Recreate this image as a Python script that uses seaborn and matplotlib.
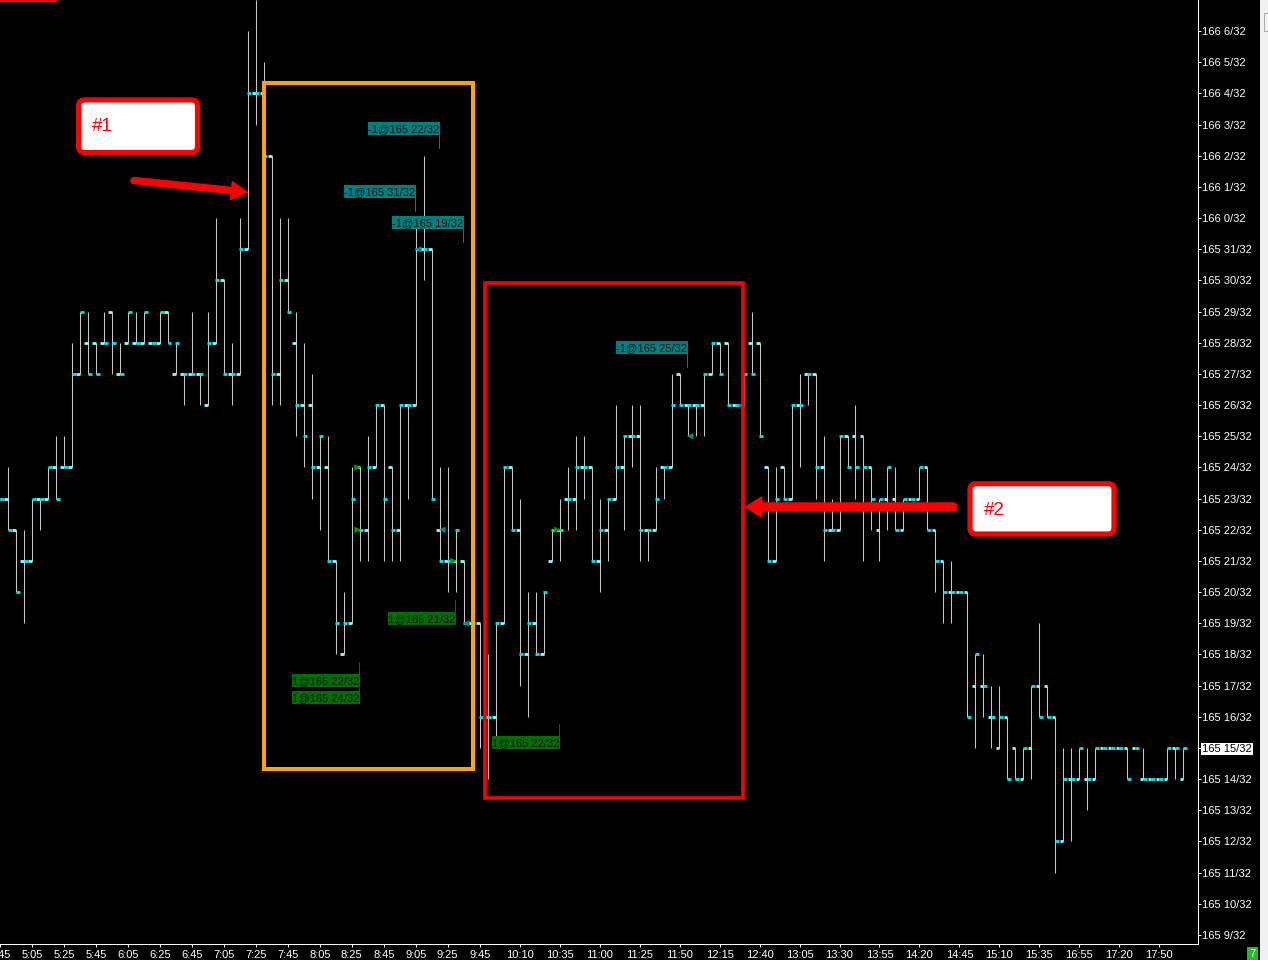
import matplotlib
matplotlib.use("Agg")
import matplotlib.pyplot as plt
import pandas as pd
import seaborn as sns
from matplotlib.patches import Rectangle, FancyBboxPatch, Polygon

# ---------------- data (prices in 1/32 above 165, one row per bar) ----------------
opens = [23, 23, 22, 21, 21, 23, 23, 24, 24, 24,
         27, 28, 28, 28, 29, 27, 28, 28, 28, 28,
         28, 29, 27, 27, 27, 27, 26, 28, 30, 27,
         27, 31, 36, 36, 34, 27, 30, 28, 26, 26,
         24, 24, 21, 18, 19, 24, 22, 24, 26, 24,
         22, 26, 26, 31, 31, 22, 21, 21, 21, 19,
         19, 16, 16, 19, 24, 22, 18, 19, 18, 21,
         22, 23, 23, 24, 24, 21, 22, 23, 24, 25,
         25, 22, 22, 24, 24, 27, 26, 26, 26, 27,
         28, 28, 26, 26, 28, 28, 24, 21, 24, 23,
         26, 27, 27, 24, 22, 22, 25, 25, 25, 24,
         22, 23, 23, 22, 23, 23, 24, 22, 21, 20,
         20, 20, 17, 17, 16, 15, 16, 15, 14, 15,
         17, 17, 16, 12, 14, 14, 14, 14, 15, 15,
         15, 15, 15, 14, 14, 14, 14, 15, 14]
highs = [23, 24, 22, 22, 23, 23, 24, 25, 25, 28,
         29, 29, 28, 29, 29, 28, 29, 29, 29, 28,
         29, 29, 28, 27, 29, 27, 29, 32, 30, 28,
         32, 38, 39, 37, 34, 32, 32, 29, 28, 27,
         25, 25, 21, 20, 24, 24, 25, 26, 26, 24,
         26, 26, 32, 34, 31, 24, 24, 22, 21, 19,
         19, 18, 19, 24, 24, 23, 20, 20, 20, 22,
         23, 24, 25, 25, 24, 23, 23, 26, 25, 26,
         26, 22, 24, 24, 27, 27, 26, 26, 27, 28,
         28, 28, 26, 27, 29, 28, 24, 24, 24, 26,
         27, 27, 27, 25, 23, 25, 25, 26, 25, 24,
         23, 24, 24, 23, 23, 24, 24, 22, 21, 21,
         20, 20, 18, 18, 17, 17, 16, 15, 15, 17,
         19, 17, 16, 15, 15, 15, 15, 15, 15, 15,
         15, 15, 15, 15, 14, 14, 15, 15, 15]
lows = [23, 22, 20, 19, 21, 22, 23, 23, 24, 24,
        27, 27, 27, 28, 27, 27, 28, 28, 28, 28,
        28, 28, 27, 26, 27, 26, 26, 28, 27, 26,
        27, 31, 35, 34, 26, 26, 29, 25, 24, 23,
        22, 21, 18, 18, 19, 21, 21, 24, 21, 21,
        21, 23, 26, 30, 23, 21, 20, 20, 19, 19,
        15, 14, 15, 19, 22, 17, 16, 18, 18, 21,
        21, 22, 22, 23, 21, 20, 21, 23, 22, 24,
        21, 21, 22, 23, 24, 26, 25, 25, 25, 27,
        27, 26, 26, 26, 27, 25, 21, 21, 23, 23,
        24, 26, 23, 21, 22, 22, 24, 23, 21, 22,
        21, 22, 22, 22, 23, 23, 22, 20, 19, 19,
        20, 16, 15, 16, 15, 15, 14, 14, 14, 14,
        16, 16, 11, 12, 12, 14, 13, 14, 15, 15,
        15, 14, 15, 14, 14, 14, 14, 14, 14]
closes = [23, 22, 20, 21, 23, 23, 24, 23, 24, 27,
          29, 27, 27, 28, 28, 27, 29, 28, 29, 28,
          29, 28, 28, 27, 27, 27, 28, 30, 27, 27,
          31, 36, 36, 34, 27, 30, 29, 26, 25, 24,
          25, 21, 19, 19, 23, 22, 24, 26, 23, 22,
          26, 26, 31, 31, 23, 21, 21, 22, 19, 19,
          16, 16, 19, 24, 22, 18, 19, 18, 20, 22,
          22, 23, 24, 24, 21, 22, 23, 24, 25, 25,
          22, 22, 23, 24, 26, 26, 26, 26, 27, 28,
          27, 26, 26, 27, 27, 25, 21, 23, 23, 26,
          26, 27, 24, 22, 22, 25, 24, 24, 24, 23,
          23, 24, 22, 23, 23, 24, 22, 21, 20, 20,
          20, 16, 18, 17, 16, 16, 14, 14, 15, 17,
          16, 16, 12, 14, 14, 15, 14, 15, 15, 15,
          15, 14, 15, 14, 14, 14, 15, 15, 15]

time_labels = ["4:45", "5:05", "5:25", "5:45", "6:05", "6:25", "6:45", "7:05", "7:25",
               "7:45", "8:05", "8:25", "8:45", "9:05", "9:25", "9:45", "10:10", "10:35",
               "11:00", "11:25", "11:50", "12:15", "12:40", "13:05", "13:30", "13:55",
               "14:20", "14:45", "15:10", "15:35", "16:55", "17:20", "17:50"]
time_label_bars = [0, 4, 8, 12, 16, 20, 24, 28, 32, 36, 40, 44, 48, 52, 56, 60,
                   65, 70, 75, 80, 85, 90, 95, 100, 105, 110, 115, 120, 125, 130,
                   135, 140, 145]

price_ticks = [9, 10, 11, 12, 13, 14, 15, 16, 17, 18, 19, 20, 21, 22, 23, 24, 25,
               26, 27, 28, 29, 30, 31, 32, 33, 34, 35, 36, 37, 38]
price_tick_labels = ["165 9/32", "165 10/32", "165 11/32", "165 12/32", "165 13/32",
                     "165 14/32", "165 15/32", "165 16/32", "165 17/32", "165 18/32",
                     "165 19/32", "165 20/32", "165 21/32", "165 22/32", "165 23/32",
                     "165 24/32", "165 25/32", "165 26/32", "165 27/32", "165 28/32",
                     "165 29/32", "165 30/32", "165 31/32", "166 0/32", "166 1/32",
                     "166 2/32", "166 3/32", "166 4/32", "166 5/32", "166 6/32"]
last_price = 15

fill_bars = [45, 45, 52, 55, 57, 58, 70, 86]
fill_prices = [24, 22, 31, 22, 21, 19, 22, 25]
fill_sides = ["buy", "buy", "sell", "sell", "buy", "sell", "buy", "sell"]

sell_texts = ["-1@165 22/32", "-1@165 31/32", "-1@165 19/32", "-1@165 25/32"]
buy_texts = ["1@165 21/32", "1@165 22/32", "1@165 24/32", "1@165 22/32"]

# ---------------- layout (pixels) ----------------
W, H = 1268, 960
PLOT_RIGHT, PLOT_BOTTOM = 1197.5, 943.5
BAR_PX, BAR_X0 = 8.0, -0.7
TICK_PX, Y_REF_PX, Y_REF = 31.172, 935.0, 9

sns.set_theme(style="dark", rc={"axes.facecolor": "black", "figure.facecolor": "black",
                                "axes.grid": False})
plt.rcParams["font.family"] = ["Liberation Sans", "DejaVu Sans"]

df = pd.DataFrame({"bar": range(len(opens)), "open": opens, "high": highs,
                   "low": lows, "close": closes})
fills = pd.DataFrame({"bar": fill_bars, "price": fill_prices, "side": fill_sides})
fills["xpos"] = fills["bar"] + fills["side"].map({"buy": -0.28, "sell": 0.32})

fig = plt.figure(figsize=(W / 100, H / 100), dpi=100, facecolor="black")
ax = fig.add_axes([0, (H - PLOT_BOTTOM) / H, PLOT_RIGHT / W, PLOT_BOTTOM / H])
ax.set_facecolor("black")

# bars
rng = df[df.high > df.low]
ax.vlines(rng.bar, rng.low, rng.high, color="#C8C8C8", lw=0.75, zorder=2)
ax.hlines(df.open, df.bar - 0.45, df.bar, color="#8CFFFF", lw=2.0, zorder=3,
          capstyle="butt")
ax.hlines(df.close, df.bar - 0.05, df.bar + 0.45, color="#00E8F4", lw=2.0, zorder=3,
          capstyle="butt")

sns.scatterplot(data=fills, x="xpos", y="price", hue="side", style="side",
                markers={"buy": ">", "sell": "<"},
                palette={"buy": "#009A00", "sell": "#008B8B"},
                s=22, linewidth=0, legend=False, ax=ax, zorder=4)

ax.set_xlim((0 - BAR_X0) / BAR_PX, (PLOT_RIGHT - BAR_X0) / BAR_PX)
ax.set_ylim(Y_REF - (PLOT_BOTTOM - Y_REF_PX) / TICK_PX, Y_REF + Y_REF_PX / TICK_PX)
ax.set_xlabel("")
ax.set_ylabel("")

ax.yaxis.tick_right()
ax.set_yticks(price_ticks)
ax.set_yticklabels(price_tick_labels)
ax.set_xticks(time_label_bars)
ax.set_xticklabels(time_labels)
ax.tick_params(axis="y", colors="white", length=2.2, width=0.7, pad=1.3, labelsize=8,
               right=True, left=False, direction="out")
ax.tick_params(axis="x", colors="white", length=2.2, width=0.7, pad=2.4, labelsize=8,
               bottom=True, direction="out")
for s in ["top", "left"]:
    ax.spines[s].set_visible(False)
for s in ["right", "bottom"]:
    ax.spines[s].set_visible(True)
    ax.spines[s].set_color("white")
    ax.spines[s].set_linewidth(0.75)

lbl = ax.get_yticklabels()[price_ticks.index(last_price)]
lbl.set_color("black")
lbl.set_bbox(dict(facecolor="white", edgecolor="none", boxstyle="square,pad=0.12"))

# ---------------- overlay annotations (pixel space) ----------------
ov = fig.add_axes([0, 0, 1, 1])
ov.set_xlim(0, W)
ov.set_ylim(H, 0)
ov.axis("off")
ov.patch.set_alpha(0)
PT = 0.72  # points per pixel

ov.add_patch(Rectangle((1260, 0), 8, 960, facecolor="#F0F0F0", edgecolor="none"))
ov.add_patch(Rectangle((1263.5, 12.5), 6, 18, facecolor="#F4F4F4", edgecolor="#A8A8A8",
                       lw=0.7))
ov.add_patch(Rectangle((1246.7, 946.7), 11.6, 13.3, facecolor="#22BB22", edgecolor="none"))
ov.text(1252.5, 954.3, "7", color="white", fontsize=8, ha="center", va="center")
ov.add_patch(Rectangle((0, 0), 57, 2, facecolor="#FF0000", edgecolor="none"))

ov.add_patch(Rectangle((263.5, 83), 473 - 263.5, 769 - 83, fill=False,
                       edgecolor="#FFA500", lw=4 * PT))
ov.add_patch(Rectangle((485, 282.7), 743 - 485, 798 - 282.7, fill=False,
                       edgecolor="#FF0000", lw=3.6 * PT))

def callout(x0, y0, x1, y1, text, tx, ty):
    ov.add_patch(FancyBboxPatch((x0, y0), x1 - x0, y1 - y0,
                                boxstyle="round,pad=0,rounding_size=6",
                                facecolor="white", edgecolor="#FF0000", lw=5.2 * PT))
    ov.text(tx, ty, text, color="#FF0000", fontsize=13.5, ha="left",
            va="center_baseline")

callout(78.6, 99.9, 197.5, 152.5, "#1", 91.5, 124.5)
callout(970.0, 483.7, 1114.0, 534.0, "#2", 984.0, 508.5)

# arrow 1
ov.plot([134, 233], [180.6, 190.6], color="#FF0000", lw=7.5 * PT, solid_capstyle="round")
ov.add_patch(Polygon([(248, 192.3), (230.2, 200.0), (232.1, 181.3)], closed=True,
                     facecolor="#FF0000", edgecolor="#FF0000", lw=0.5))
# arrow 2
ov.plot([953, 760], [507, 507], color="#FF0000", lw=9.5 * PT, solid_capstyle="round")
ov.add_patch(Polygon([(744.7, 507), (762, 496.5), (762, 517.5)], closed=True,
                     facecolor="#FF0000", edgecolor="#FF0000", lw=0.5))

def trade_label(x0, y0, w, text, bg, stem):
    ov.add_patch(Rectangle((x0, y0), w, 12.7, facecolor=bg, edgecolor="none"))
    ov.text(x0 + w / 2, y0 + 6.8, text, color="#0A1414", fontsize=8,
            ha="center", va="center")
    if stem is not None:
        ov.plot([x0 + w - 1.2, x0 + w - 1.2], stem, color=bg, lw=1.0 * PT)

TEAL, GREEN = "#007F80", "#006E00"
sell_boxes = [(368.3, 122.3, 71.5), (344.0, 185.3, 72.0), (392.0, 216.0, 72.0),
              (616.0, 341.0, 72.0)]
sell_stems = [(135, 147.7), (198, 210.7), (229, 242), (353.7, 366.7)]
for (x0, y0, w), txt, stem in zip(sell_boxes, sell_texts, sell_stems):
    trade_label(x0, y0, w, txt, TEAL, stem)

buy_boxes = [(388.0, 612.3, 68.0), (292.0, 674.0, 68.0), (292.0, 691.0, 68.0),
             (492.0, 736.0, 68.0)]
buy_stems = [(600, 612.3), (662, 674), (686.7, 691), (724, 736)]
for (x0, y0, w), txt, stem in zip(buy_boxes, buy_texts, buy_stems):
    trade_label(x0, y0, w, txt, GREEN, stem)

fig.savefig("out.png", dpi=100, facecolor="black")
